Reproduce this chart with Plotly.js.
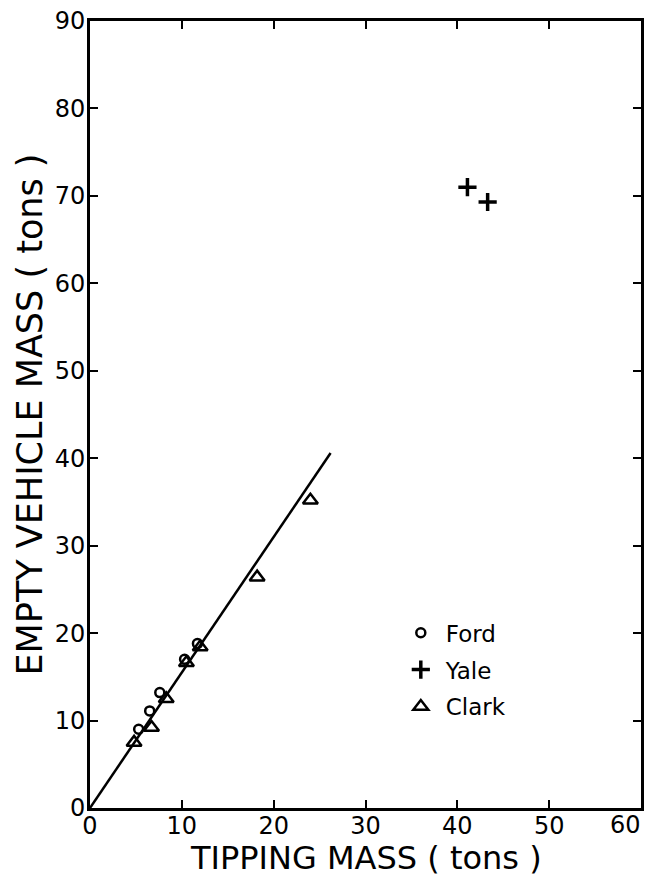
<!DOCTYPE html>
<html>
<head>
<meta charset="utf-8">
<script src="https://cdn.plot.ly/plotly-3.0.1.min.js"></script>
<style>html,body{margin:0;padding:0;background:#fff;}#chart{width:646px;height:875px;}</style>
</head>
<body>
<div id="chart"></div>
<script>
// Data
const fordX = [5.3, 6.5, 7.6, 10.3, 11.7];
const fordY = [9.0, 11.1, 13.2, 17.0, 18.8];
const yaleX = [41.1, 43.3];
const yaleY = [71.0, 69.3];
const clarkX = [4.8, 6.7, 8.3, 10.5, 12.0, 18.2, 24.0];
const clarkY = [7.5, 9.2, 12.5, 16.6, 18.4, 26.4, 35.2];
const fitX = [0, 26.2];
const fitY = [0, 40.6];
const xTicks = [0, 10, 20, 30, 40, 50];
const xLastTick = 60;
const yTicks = [0, 10, 20, 30, 40, 50, 60, 70, 80, 90];

const FONT = 'DejaVu Sans, sans-serif';

const traces = [
  {x: fitX, y: fitY, mode: 'lines', line: {color: '#000', width: 2.5}, showlegend: false, hoverinfo: 'skip'},
  {x: fordX, y: fordY, name: 'Ford', mode: 'markers', legendgroup: 'f',
   marker: {symbol: 'circle-open', size: 9, color: '#000', line: {width: 2.5, color: '#000'}}},
  {x: yaleX, y: yaleY, name: 'Yale', mode: 'markers', legendgroup: 'y',
   marker: {symbol: 'cross-thin-open', size: 13, color: '#000', line: {width: 3.5, color: '#000'}}},
  {x: clarkX, y: clarkY, name: 'Clark', mode: 'markers', legendgroup: 'c',
   marker: {symbol: 'triangle-up-open', size: 13, color: '#000', line: {width: 2.5, color: '#000'}}}
];

const axisCommon = {
  showgrid: false, zeroline: false, showline: true, linecolor: '#000', linewidth: 3,
  mirror: 'ticks', ticks: 'inside', ticklen: 8, tickwidth: 2, tickcolor: '#000',
  tickfont: {family: FONT, size: 24, color: '#000'}
};

const layout = {
  width: 646, height: 875,
  margin: {l: 90, r: 5, t: 21, b: 67},
  paper_bgcolor: '#fff', plot_bgcolor: '#fff',
  font: {family: FONT, color: '#000'},
  xaxis: Object.assign({}, axisCommon, {
    range: [0, 60], tickvals: xTicks.concat([xLastTick]), ticktext: xTicks.map(String).concat(['']),
    ticklabelstandoff: -6
  }),
  yaxis: Object.assign({}, axisCommon, {
    range: [0, 90], tickvals: yTicks, ticktext: yTicks.map(String),
    ticklabelstandoff: -3,
    title: {text: 'EMPTY VEHICLE MASS ( tons )', font: {family: FONT, size: 35, color: '#000'}, standoff: 2}
  }),
  annotations: [
    {x: xLastTick, y: 0, xref: 'x', yref: 'y', text: String(xLastTick), showarrow: false,
     xanchor: 'right', yanchor: 'top', yshift: -1, xshift: 2,
     font: {family: FONT, size: 24, color: '#000'}},
    {x: 0.5, y: 0, xref: 'paper', yref: 'paper', text: 'TIPPING MASS ( tons )', showarrow: false,
     xanchor: 'center', yanchor: 'top', yshift: -29,
     font: {family: FONT, size: 32, color: '#000'}}
  ],
  showlegend: true,
  legend: {x: 0.555, y: 0.25, xanchor: 'left', yanchor: 'top', bgcolor: 'rgba(0,0,0,0)',
           font: {family: FONT, size: 23, color: '#000'}, itemwidth: 40,
           traceorder: 'grouped', tracegroupgap: 4},
};

Plotly.newPlot('chart', traces, layout, {displayModeBar: false, staticPlot: true});
</script>
</body>
</html>
